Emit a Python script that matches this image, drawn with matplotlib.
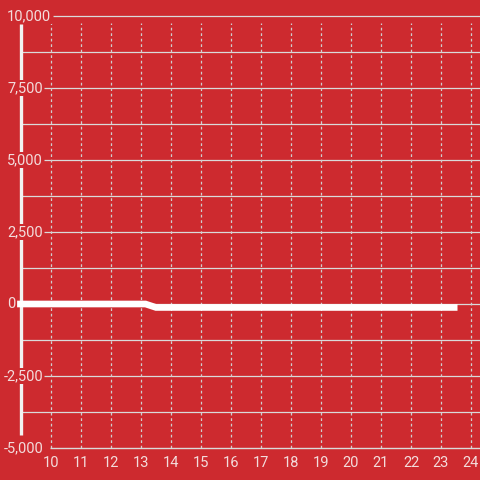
import matplotlib
matplotlib.use("Agg")
import matplotlib.pyplot as plt

# data
x_vals = [8.87, 13.15, 13.5, 23.55]
y_vals = [0, 0, -120, -120]
x_ticks = list(range(10, 25))
y_ticks = [-5000, -2500, 0, 2500, 5000, 7500, 10000]
y_minor = [-3750, -1250, 1250, 3750, 6250, 8750]

bg = "#CD2A2F"
txt = "#F3DCDC"
grid = "#DADADA"
vgrid = "#CFCFCF"

fig = plt.figure(figsize=(4.8, 4.8), dpi=100, facecolor=bg)
ax = fig.add_axes([22/480, 32/480, 458/480, 438/480])
ax.set_facecolor(bg)

px = 1/30.0            # x data units per pixel
py = 1000/28.8         # y data units per pixel
ax.set_xlim(10 - 29*px, 24 + 9*px)
ax.set_ylim(-5000, 10000 + 6*py)

for s in ax.spines.values():
    s.set_visible(False)

ax.set_xticks(x_ticks)
ax.set_yticks([])
ax.tick_params(axis="x", length=0, colors=txt, labelsize=10.5, pad=6)
for lab in ax.get_xticklabels():
    lab.set_fontfamily("Roboto")

xr = ax.get_xlim()[1]
# minor horizontal grid (full width)
ax.hlines(y_minor, ax.get_xlim()[0], xr, color=grid, linewidth=0.9, zorder=1)
# major horizontal grid with short tick stub
for v in y_ticks:
    if v == -5000:
        start = 10 - 1*px
    elif v == 10000:
        start = 10 + 2*px
    else:
        start = 10 - 7*px
    ax.hlines(v, start, xr, color=grid, linewidth=1.0 if v == -5000 else 0.9,
              zorder=1, clip_on=False)
# vertical dashed grid
ax.vlines(x_ticks, -5000, 10000 - 7*py, color=vgrid, linewidth=0.9,
          linestyles=(0, (2.2, 2.2)), zorder=1)

# left axis bar
ax.plot([10 - 30.5*px] * 2, [10000 - 8*py, -5000 + 13*py], color="#F2F2F2",
        linewidth=2.4, solid_capstyle="butt", clip_on=False, zorder=2)

# y labels with background boxes (interrupt the bar)
for v in y_ticks:
    if v == 0:
        xpos = 10 - 36*px
    elif v == 10000:
        xpos = 10 + 0*px
    else:
        xpos = 10 - 8*px
    ax.text(xpos, v, f"{v:,}", ha="right", va="center", color=txt,
            fontsize=10.5, fontfamily="Roboto", zorder=3, clip_on=False,
            bbox=dict(facecolor=bg, edgecolor="none", pad=1.0))

ax.plot(x_vals, y_vals, color="white", linewidth=4.8, solid_capstyle="butt",
        solid_joinstyle="miter", clip_on=False, zorder=4)

fig.savefig("out.png", dpi=100, facecolor=bg)
